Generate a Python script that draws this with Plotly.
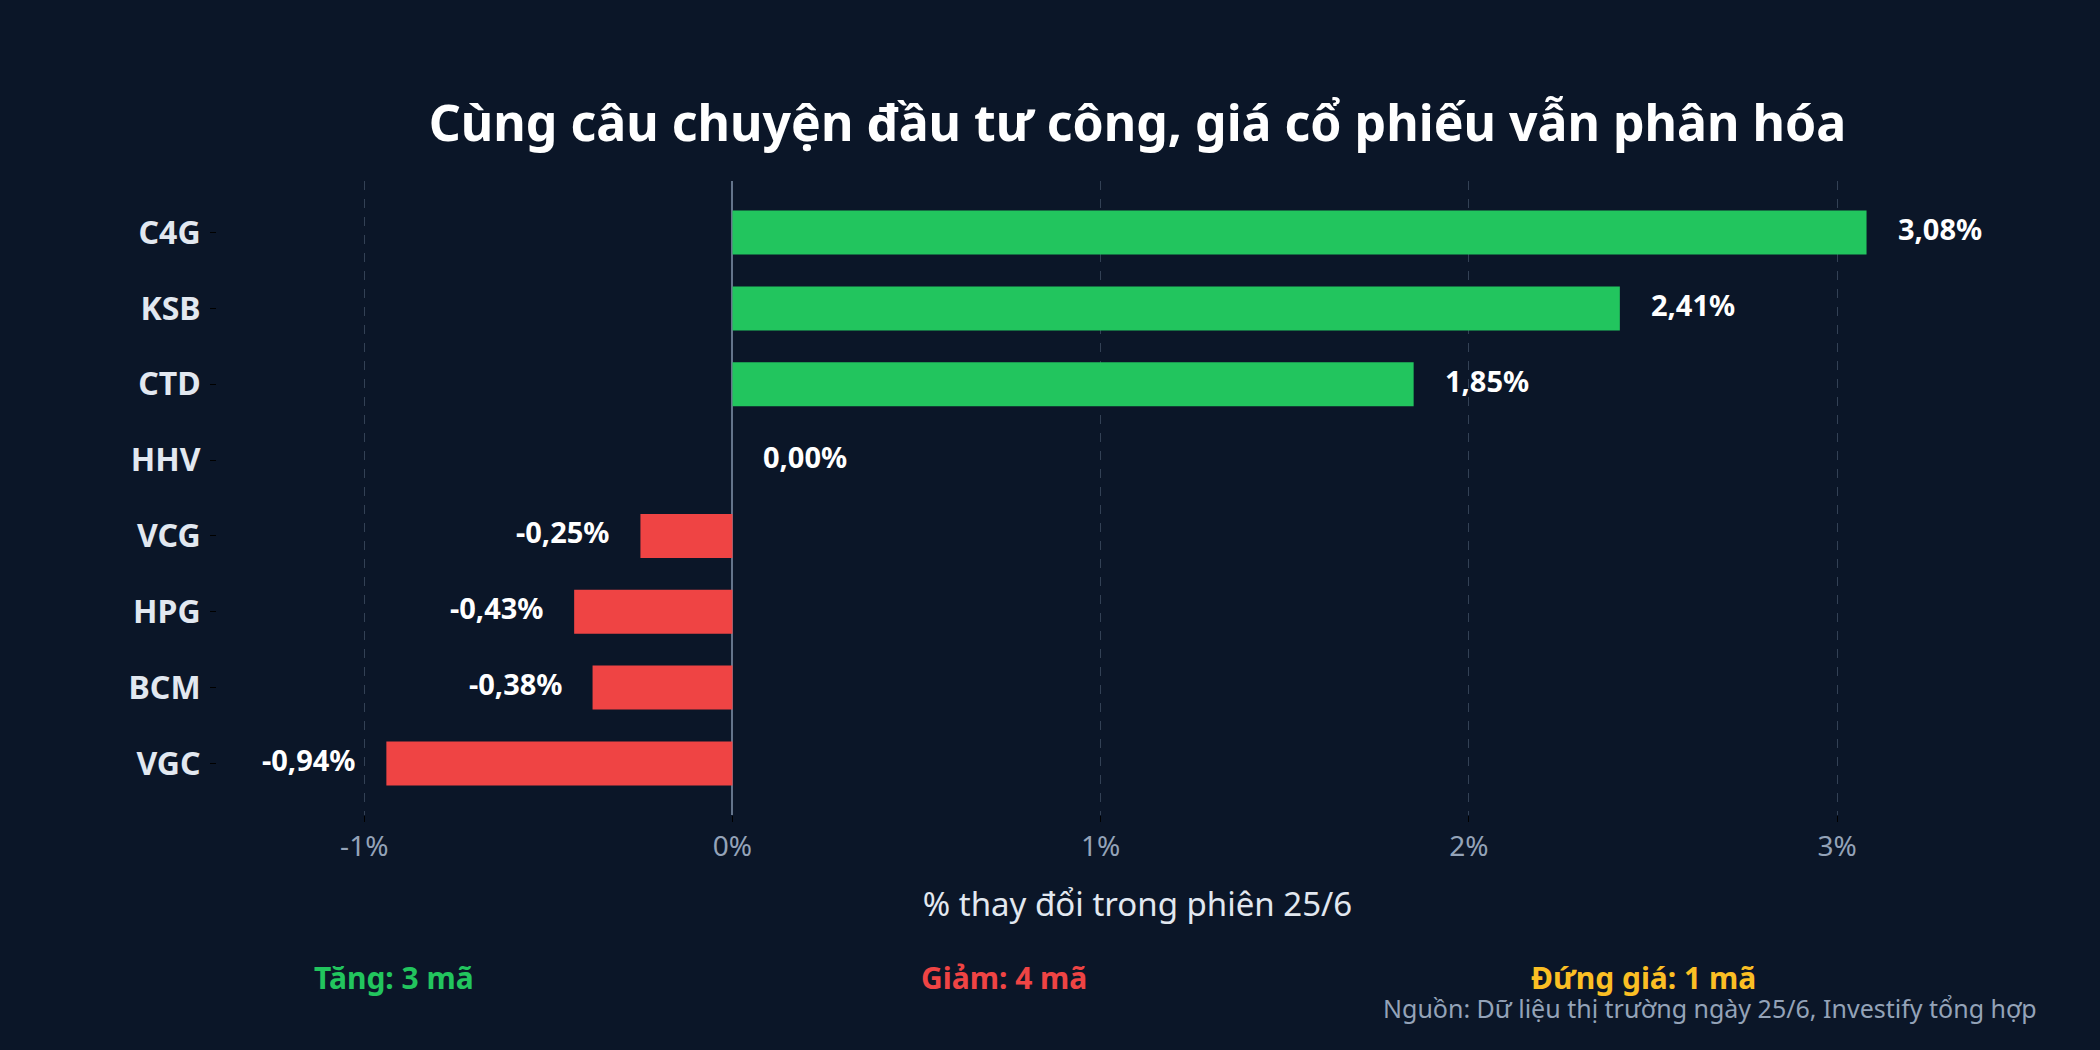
import plotly.graph_objects as go

# dữ liệu phiên 25/6
tickers = ["C4G", "KSB", "CTD", "HHV", "VCG", "HPG", "BCM", "VGC"]
changes = [3.08, 2.41, 1.85, 0.00, -0.25, -0.43, -0.38, -0.94]
labels = ["3,08%", "2,41%", "1,85%", "0,00%", "-0,25%", "-0,43%", "-0,38%", "-0,94%"]

x_ticks = [-1, 0, 1, 2, 3]
x_tick_text = ["-1%", "0%", "1%", "2%", "3%"]

summary = ["Tăng: 3 mã", "Giảm: 4 mã", "Đứng giá: 1 mã"]
source = "Nguồn: Dữ liệu thị trường ngày 25/6, Investify tổng hợp"

W, H = 2100, 1050
BG = "#0b1628"
GREEN = "#22c55e"
RED = "#ef4444"
YELLOW = "#fbbf24"
FONT = "Noto Sans"

# plot area in pixels
L, R, T, B = 217, 42, 181, 235
PW, PH = W - L - R, H - T - B


def px_x(x):
    return (x - L) / PW


def px_y(y):
    return (H - B - y) / PH


bar_colors = [GREEN if v > 0 else (RED if v < 0 else "#94a3b8") for v in changes]

fig = go.Figure()
fig.add_trace(go.Bar(
    y=tickers,
    x=changes,
    orientation="h",
    width=0.58,
    marker=dict(color=bar_colors, line=dict(width=0)),
    hoverinfo="skip",
))

# value labels, pushed a little away from the bar end
for tk, v, lab in zip(tickers, changes, labels):
    fig.add_annotation(
        x=v, y=tk, text=lab, showarrow=False,
        xanchor="right" if v < 0 else "left",
        xshift=-29 if v < 0 else 29,
        yshift=4,
        font=dict(family=FONT, size=29, color="white", weight="bold"),
    )

fig.update_layout(
    width=W,
    height=H,
    paper_bgcolor=BG,
    plot_bgcolor=BG,
    showlegend=False,
    margin=dict(l=L, r=R, t=T, b=B),
    font=dict(family=FONT, color="#e2e8f0"),
    title=dict(
        text="Cùng câu chuyện đầu tư công, giá cổ phiếu vẫn phân hóa",
        x=0.5, xref="paper", xanchor="center",
        y=1 - 123 / H, yref="container", yanchor="middle",
        font=dict(family=FONT, size=50, color="white", weight="bold"),
    ),
    xaxis=dict(
        range=[-1.4, 3.6],
        tickvals=x_ticks,
        ticktext=x_tick_text,
        tickfont=dict(family=FONT, size=28, color="#94a3b8"),
        showgrid=True,
        gridcolor="#334155",
        griddash="dash",
        gridwidth=1,
        zeroline=True,
        zerolinecolor="#64748b",
        zerolinewidth=2,
        ticks="outside",
        ticklen=6,
        tickcolor="#000000",
        showline=False,
        title=dict(text="% thay đổi trong phiên 25/6",
                   font=dict(family=FONT, size=33, color="#e2e8f0"),
                   standoff=30),
    ),
    yaxis=dict(
        categoryorder="array",
        categoryarray=tickers,
        autorange=False,
        range=[7.68, -0.68],
        tickfont=dict(family=FONT, size=32, color="#e2e8f0", weight="bold"),
        ticks="outside",
        ticklen=6,
        tickcolor="#000000",
        ticklabelstandoff=3,
        showgrid=False,
        zeroline=False,
        showline=False,
    ),
)

summary_x = [394, 1004, 1643]
summary_colors = [GREEN, RED, YELLOW]
for txt, xpos, col in zip(summary, summary_x, summary_colors):
    fig.add_annotation(
        text=txt, x=px_x(xpos), y=px_y(977),
        xref="paper", yref="paper", xanchor="center", yanchor="middle",
        showarrow=False,
        font=dict(family=FONT, size=30, color=col, weight="bold"),
    )

fig.add_annotation(
    text=source, x=px_x(2039), y=px_y(1008),
    xref="paper", yref="paper", xanchor="right", yanchor="middle",
    showarrow=False,
    font=dict(family=FONT, size=25, color="#94a3b8"),
)

fig.write_html("out.html", config={"displayModeBar": False},
               post_script="document.body.style.margin='0';")
